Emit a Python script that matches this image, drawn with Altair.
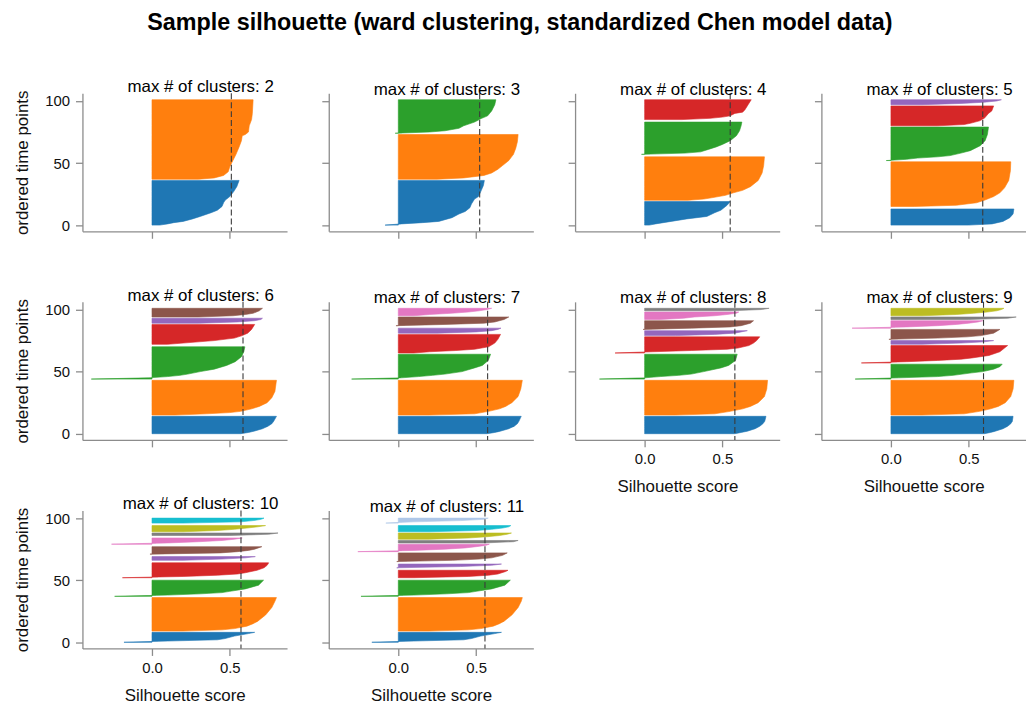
import altair as alt
import pandas as pd

FONT = "Liberation Sans"

# tab10 colours, plus a light blue for an eleventh cluster
PALETTE = ["#1f77b4", "#ff7f0e", "#2ca02c", "#d62728", "#9467bd",
           "#8c564b", "#e377c2", "#7f7f7f", "#bcbd22", "#17becf", "#aec7e8"]

# Sorted silhouette profile of each cluster: (ordered time point, silhouette score)
K2 = [
    [(0, 0.05), (1, 0.1), (2, 0.14), (3, 0.2), (5, 0.26), (7, 0.31), (10, 0.38), (12, 0.42), (15, 0.45), (18, 0.46), (20, 0.47), (21, 0.48), (23, 0.5), (27, 0.525), (31, 0.545), (36, 0.56)],
    [(37, 0.3), (38, 0.4), (40, 0.46), (43, 0.49), (47, 0.5), (52, 0.52), (57, 0.54), (63, 0.56), (68, 0.575), (72, 0.58), (73, 0.6), (75, 0.62), (80, 0.625), (85, 0.64), (90, 0.645), (101, 0.65)],
]
K3 = [
    [(0, -0.085), (1, 0.02), (2, 0.155), (3, 0.26), (6, 0.345), (9, 0.39), (11, 0.43), (14, 0.46), (17, 0.47), (21, 0.49), (23, 0.515), (27, 0.53), (32, 0.547), (36, 0.553)],
    [(37, 0.25), (38, 0.42), (40, 0.55), (42, 0.6), (45, 0.64), (48, 0.67), (52, 0.71), (57, 0.74), (62, 0.755), (67, 0.765), (73, 0.77)],
    [(74, -0.02), (75, 0.2), (76, 0.3), (77, 0.345), (78, 0.39), (80, 0.42), (83, 0.49), (86, 0.536), (88, 0.574), (92, 0.6), (97, 0.62), (101, 0.627)],
]
K4 = [
    [(0, 0.03), (1, 0.07), (3, 0.17), (5, 0.27), (7, 0.4), (10, 0.45), (12, 0.49), (16, 0.53), (19, 0.55)],
    [(20, 0.28), (21, 0.38), (22, 0.43), (24, 0.52), (26, 0.57), (28, 0.63), (31, 0.68), (36, 0.73), (42, 0.755), (48, 0.765), (55, 0.77)],
    [(57, -0.02), (58, 0.26), (59, 0.36), (61, 0.41), (63, 0.46), (65, 0.5), (68, 0.55), (72, 0.59), (76, 0.61), (80, 0.62), (83, 0.625)],
    [(85, 0.24), (86, 0.42), (87, 0.5), (88, 0.55), (90, 0.58), (91, 0.63), (93, 0.645), (97, 0.665), (101, 0.685)],
]
K5 = [
    [(0, 0.5), (1, 0.65), (3, 0.72), (6, 0.764), (9, 0.785), (13, 0.79)],
    [(15, 0.15), (16, 0.42), (18, 0.55), (20, 0.6), (23, 0.66), (26, 0.7), (30, 0.73), (36, 0.757), (44, 0.768), (51, 0.77)],
    [(52, -0.03), (53, 0.1), (54, 0.17), (55, 0.3), (56, 0.38), (58, 0.45), (60, 0.51), (64, 0.574), (68, 0.605), (73, 0.62), (79, 0.627)],
    [(80, 0.3), (81, 0.47), (82, 0.51), (84, 0.57), (86, 0.6), (90, 0.627), (92, 0.648), (96, 0.66)],
    [(97, 0.2), (98, 0.45), (99, 0.6), (100, 0.68), (101, 0.71)],
]
K6 = [
    [(0, 0.57), (1, 0.62), (2, 0.655), (4, 0.71), (6, 0.745), (8, 0.77), (10, 0.782), (14, 0.8)],
    [(15, 0.15), (16, 0.35), (17, 0.5), (18, 0.57), (20, 0.64), (22, 0.69), (25, 0.74), (29, 0.77), (34, 0.79), (43, 0.8)],
    [(44, -0.39), (45, -0.02), (46, 0.1), (47, 0.18), (48, 0.23), (50, 0.31), (52, 0.4), (55, 0.48), (58, 0.535), (62, 0.575), (66, 0.59), (70, 0.597)],
    [(72, 0.1), (73, 0.2), (75, 0.4), (77, 0.53), (79, 0.58), (81, 0.615), (84, 0.64), (88, 0.66)],
    [(89, 0.3), (90, 0.55), (91, 0.66), (92, 0.7), (93, 0.71)],
    [(94, 0.3), (95, 0.52), (96, 0.6), (97, 0.65), (99, 0.69), (101, 0.71)],
]
K7 = [
    [(0, 0.57), (1, 0.62), (2, 0.655), (4, 0.71), (6, 0.745), (8, 0.765), (10, 0.775), (14, 0.79)],
    [(15, 0.2), (16, 0.49), (18, 0.58), (20, 0.65), (22, 0.69), (25, 0.73), (30, 0.77), (36, 0.787), (43, 0.797)],
    [(44, -0.3), (45, 0.02), (46, 0.13), (47, 0.22), (48, 0.3), (50, 0.41), (53, 0.49), (55, 0.54), (59, 0.578), (64, 0.593)],
    [(65, 0.1), (66, 0.2), (67, 0.37), (68, 0.49), (70, 0.58), (73, 0.62), (76, 0.64), (80, 0.657)],
    [(81, 0.25), (82, 0.5), (83, 0.6), (84, 0.64), (85, 0.66)],
    [(87, -0.015), (88, 0.3), (89, 0.55), (90, 0.62), (92, 0.68), (94, 0.71)],
    [(95, 0.1), (96, 0.2), (97, 0.34), (98, 0.45), (99, 0.52), (100, 0.57), (101, 0.6)],
]
K8 = [
    [(0, 0.58), (1, 0.62), (2, 0.66), (4, 0.71), (6, 0.74), (8, 0.76), (10, 0.772), (14, 0.78)],
    [(15, 0.2), (16, 0.45), (18, 0.55), (20, 0.63), (22, 0.68), (25, 0.73), (30, 0.77), (36, 0.785), (43, 0.79)],
    [(44, -0.29), (45, 0.0), (46, 0.1), (47, 0.22), (48, 0.3), (50, 0.38), (53, 0.49), (55, 0.54), (59, 0.584), (64, 0.595)],
    [(65, -0.19), (66, 0.05), (67, 0.3), (68, 0.53), (69, 0.6), (71, 0.67), (73, 0.7), (75, 0.72), (78, 0.74)],
    [(79, 0.2), (80, 0.45), (81, 0.58), (83, 0.66)],
    [(84, -0.01), (85, 0.3), (86, 0.55), (87, 0.62), (89, 0.68), (91, 0.7)],
    [(92, 0.1), (93, 0.25), (94, 0.32), (95, 0.45), (96, 0.53), (97, 0.59), (98, 0.605)],
    [(99, 0.55), (100, 0.75), (101, 0.8)],
]
K9 = [
    [(0, 0.6), (1, 0.64), (2, 0.67), (4, 0.72), (6, 0.75), (8, 0.77), (10, 0.78), (14, 0.785)],
    [(15, 0.2), (16, 0.47), (18, 0.57), (20, 0.64), (22, 0.69), (25, 0.735), (30, 0.77), (36, 0.785), (43, 0.79)],
    [(44, -0.23), (45, 0.05), (46, 0.3), (47, 0.4), (49, 0.52), (50, 0.59), (52, 0.66), (54, 0.7), (56, 0.715)],
    [(57, -0.19), (58, 0.1), (59, 0.3), (60, 0.45), (61, 0.52), (63, 0.63), (66, 0.7), (71, 0.75)],
    [(72, 0.2), (73, 0.45), (74, 0.6), (75, 0.66)],
    [(76, -0.013), (77, 0.3), (78, 0.49), (79, 0.58), (81, 0.66), (84, 0.7)],
    [(85, -0.25), (86, 0.1), (87, 0.3), (88, 0.42), (89, 0.5), (90, 0.56), (91, 0.59)],
    [(92, 0.5), (93, 0.75), (94, 0.805)],
    [(95, 0.2), (96, 0.42), (97, 0.53), (98, 0.62), (99, 0.68), (100, 0.71), (101, 0.726)],
]
K10 = [
    [(0, -0.18), (1, 0.1), (2, 0.42), (3, 0.47), (5, 0.53), (7, 0.62), (8, 0.66)],
    [(9, 0.2), (10, 0.45), (11, 0.53), (13, 0.61), (15, 0.65), (17, 0.68), (22, 0.73), (28, 0.77), (33, 0.79), (36, 0.8)],
    [(37, -0.24), (38, 0.1), (39, 0.31), (40, 0.45), (41, 0.5), (43, 0.6), (46, 0.685), (50, 0.717)],
    [(52, -0.19), (53, 0.2), (54, 0.42), (55, 0.55), (56, 0.6), (58, 0.675), (60, 0.72), (62, 0.74), (64, 0.75)],
    [(66, 0.2), (67, 0.45), (68, 0.6), (69, 0.664)],
    [(71, -0.013), (72, 0.44), (73, 0.55), (74, 0.62), (75, 0.66), (77, 0.706)],
    [(79, -0.26), (80, 0.1), (81, 0.3), (82, 0.45), (83, 0.53), (84, 0.58)],
    [(86, 0.5), (87, 0.75), (88, 0.81)],
    [(89, 0.2), (90, 0.42), (91, 0.53), (92, 0.61), (93, 0.68), (94, 0.73)],
    [(96, 0.2), (97, 0.57), (98, 0.65), (99, 0.7), (100, 0.72)],
]
K11 = [
    [(0, -0.17), (1, 0.1), (2, 0.42), (3, 0.47), (5, 0.53), (7, 0.62), (8, 0.663)],
    [(9, 0.2), (10, 0.45), (11, 0.53), (13, 0.61), (15, 0.65), (17, 0.68), (22, 0.73), (28, 0.77), (33, 0.79), (36, 0.797)],
    [(37, -0.24), (38, 0.1), (39, 0.31), (40, 0.45), (41, 0.5), (43, 0.6), (46, 0.685), (50, 0.72)],
    [(52, 0.1), (53, 0.45), (54, 0.58), (55, 0.64), (57, 0.69), (58, 0.705)],
    [(60, -0.01), (61, 0.4), (62, 0.6), (63, 0.663)],
    [(65, -0.01), (66, 0.35), (67, 0.52), (68, 0.6), (70, 0.67), (72, 0.7)],
    [(73, -0.26), (74, 0.1), (75, 0.3), (76, 0.43), (77, 0.5), (78, 0.56), (79, 0.585)],
    [(80, 0.55), (81, 0.74), (82, 0.77)],
    [(83, 0.2), (84, 0.45), (85, 0.57), (86, 0.65), (87, 0.7), (88, 0.727)],
    [(89, 0.2), (90, 0.5), (91, 0.6), (92, 0.67), (93, 0.71), (94, 0.723)],
    [(96, -0.08), (97, 0.1), (98, 0.4), (99, 0.55), (100, 0.578)],
]

PROFILES = {2: K2, 3: K3, 4: K4, 5: K5, 6: K6, 7: K7, 8: K8, 9: K9, 10: K10, 11: K11}

# Average silhouette score for each clustering (dashed line)
MEAN_SCORE = {2: 0.51, 3: 0.523, 4: 0.55, 5: 0.59, 6: 0.585,
              7: 0.574, 8: 0.58, 9: 0.595, 10: 0.572, 11: 0.557}

X_DOMAIN = [-0.447, 0.868]
Y_DOMAIN = [-5, 106.2]
W, H = 206, 139
AXIS_GREY = "#8c8c8c"


def panel(k, idx):
    rows = []
    for ci, prof in enumerate(PROFILES[k]):
        for t, s in prof:
            rows.append({"t": t, "s": s, "cluster": f"c{ci:02d}", "colour": PALETTE[ci]})
    df = pd.DataFrame(rows)

    left_col = idx % 4 == 0
    bottom = k >= 8
    x_axis = alt.Axis(values=[0, 0.5], format=".1f", labels=bottom,
                      title="Silhouette score" if bottom else None)
    y_axis = alt.Axis(values=[0, 50, 100], labels=left_col,
                      title="ordered time points" if left_col else None)
    xs = alt.Scale(domain=X_DOMAIN, nice=False, zero=False)
    ys = alt.Scale(domain=Y_DOMAIN, nice=False, zero=False)

    area = alt.Chart(df).mark_area(orient="horizontal", interpolate="linear",
                                   strokeWidth=0.6).encode(
        y=alt.Y("t:Q", scale=ys, axis=y_axis),
        x=alt.X("s:Q", scale=xs, axis=x_axis, stack=None),
        x2=alt.datum(0),
        color=alt.Color("colour:N", scale=None),
        stroke=alt.Stroke("colour:N", scale=None),
        detail="cluster:N",
    )
    mean = alt.Chart(pd.DataFrame({"s": [MEAN_SCORE[k]]})).mark_rule(
        color="#3a3a3a", strokeDash=[6, 3], strokeWidth=1.1
    ).encode(x=alt.X("s:Q", scale=xs, axis=x_axis))

    return alt.layer(area, mean).properties(
        width=W, height=H,
        title=alt.TitleParams(f"max # of clusters: {k}", font=FONT, fontSize=17,
                              fontWeight="normal", color="black", anchor="middle",
                              frame="group", dx=16, dy=6, offset=0),
    )


panels = [panel(k, i) for i, k in enumerate(range(2, 12))]

chart = alt.concat(
    *panels, columns=4, spacing={"row": 71, "column": 42}, bounds="flush",
    title=alt.TitleParams("Sample silhouette (ward clustering, standardized Chen model data)",
                          font=FONT, fontSize=23.5, fontWeight="bold", color="black",
                          anchor="middle", offset=44),
).properties(
    padding={"left": 13, "top": 8.5, "right": 0, "bottom": 0},
    background="white",
).configure_view(stroke=None).configure_axis(
    grid=False, domainColor=AXIS_GREY, tickColor=AXIS_GREY, domainWidth=1.3,
    tickWidth=1.3, tickSize=7, labelFont=FONT, labelFontSize=15, labelColor="#111",
    titleFont=FONT, titleFontSize=17, titleFontWeight="normal", titleColor="#111",
).configure_axisX(labelPadding=5, titlePadding=12).configure_axisY(
    labelPadding=6, titlePadding=13)

chart.save("out.html", embed_options={"renderer": "svg", "actions": False})
